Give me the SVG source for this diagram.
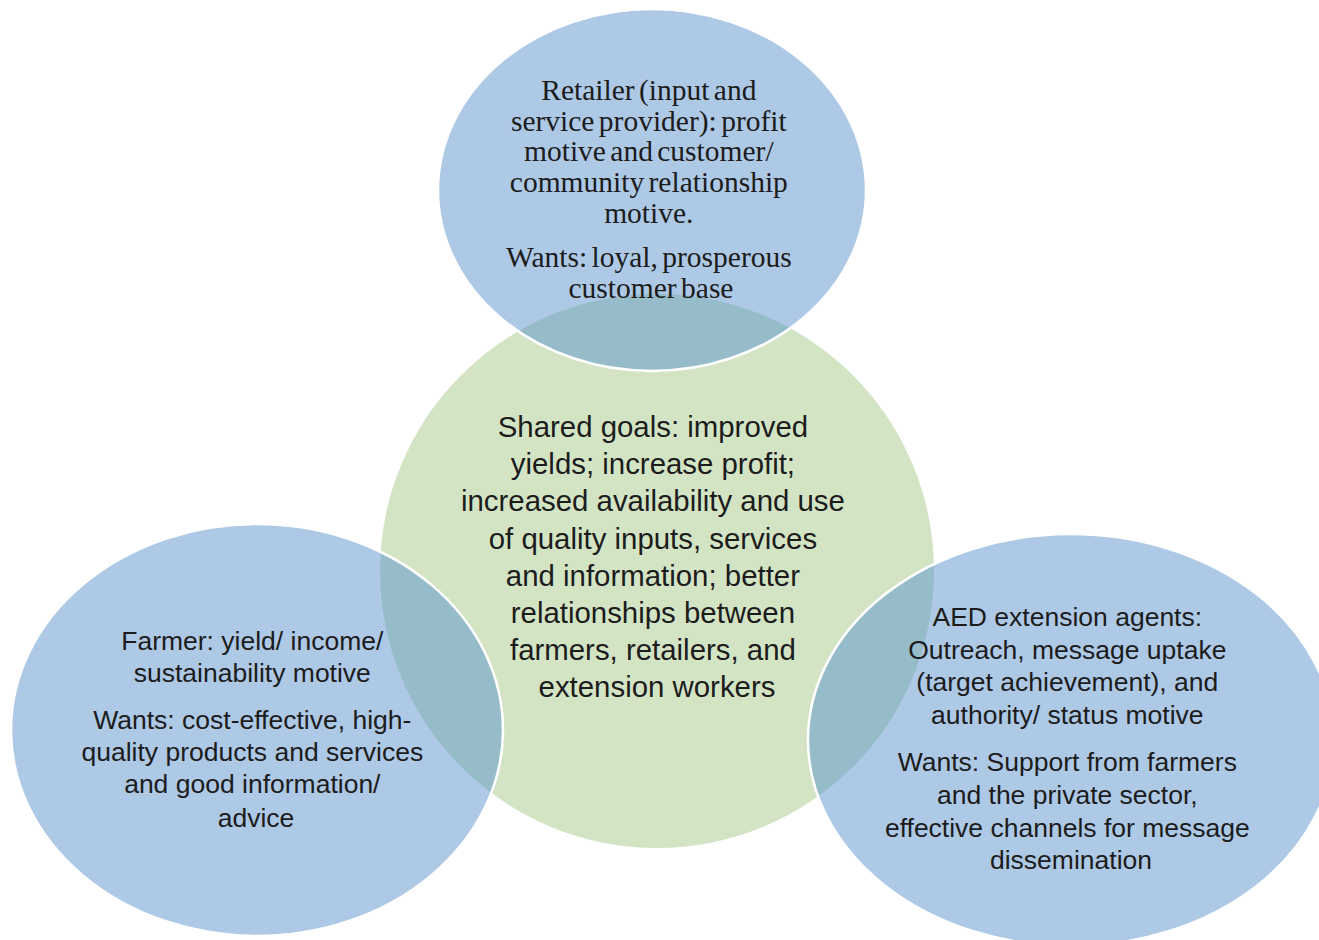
<svg xmlns="http://www.w3.org/2000/svg" width="1319" height="940" viewBox="0 0 1319 940">
  <style>
    .hub { fill: #d3e4c5; }
    .party { fill: #5b93cd; fill-opacity: 0.5; stroke: #ffffff; stroke-width: 2.5; }
    text { fill: #1c1c1c; text-anchor: middle; }
    .serif { font-family: "Liberation Serif", "Times New Roman", serif; font-size: 29.5px; word-spacing: -3px; }
    .sans { font-family: "Liberation Sans", Arial, sans-serif; font-size: 26.5px; }
    .hubtext { font-family: "Liberation Sans", Arial, sans-serif; font-size: 29.4px; }
  </style>

  <rect width="1319" height="940" fill="#ffffff"/>

  <!-- shared goals circle, drawn first so the partner ellipses tint over it -->
  <g id="shared-goals">
    <circle class="hub" cx="657" cy="571" r="277"/>
  </g>

  <g id="retailer">
    <ellipse class="party" cx="652" cy="190" rx="214" ry="181"/>
    <text class="serif">
      <tspan x="651" y="100">Retailer (input and</tspan>
      <tspan x="651" y="130.7">service provider): profit</tspan>
      <tspan x="651" y="161.4">motive and  customer/</tspan>
      <tspan x="651" y="192.1">community relationship</tspan>
      <tspan x="651" y="222.8">motive.</tspan>
      <tspan x="651" y="267">Wants: loyal, prosperous</tspan>
      <tspan x="651" y="297.7">customer base</tspan>
    </text>
  </g>

  <g id="farmer">
    <ellipse class="party" cx="257" cy="730" rx="246" ry="206"/>
    <text class="sans">
      <tspan x="256" y="650">Farmer: yield/ income/</tspan>
      <tspan x="256" y="682">sustainability motive</tspan>
      <tspan x="256" y="729">Wants: cost-effective, high-</tspan>
      <tspan x="256" y="761">quality products and services</tspan>
      <tspan x="256" y="793">and good information/</tspan>
      <tspan x="256" y="827">advice</tspan>
    </text>
  </g>

  <g id="extension-agents">
    <ellipse class="party" cx="1071" cy="740" rx="263" ry="206"/>
    <text class="sans">
      <tspan x="1071" y="626">AED extension agents:</tspan>
      <tspan x="1071" y="659">Outreach, message uptake</tspan>
      <tspan x="1071" y="691">(target achievement), and</tspan>
      <tspan x="1071" y="724">authority/ status motive</tspan>
      <tspan x="1071" y="771">Wants: Support from farmers</tspan>
      <tspan x="1071" y="804">and the private sector,</tspan>
      <tspan x="1071" y="837">effective channels for message</tspan>
      <tspan x="1071" y="869">dissemination</tspan>
    </text>
  </g>

  <g id="shared-goals-label">
    <text class="hubtext">
      <tspan x="657" y="437">Shared goals: improved</tspan>
      <tspan x="657" y="474.2">yields; increase profit;</tspan>
      <tspan x="657" y="511.4">increased availability and use</tspan>
      <tspan x="657" y="548.6">of quality inputs, services</tspan>
      <tspan x="657" y="585.8">and information; better</tspan>
      <tspan x="657" y="623">relationships between</tspan>
      <tspan x="657" y="660.2">farmers, retailers, and</tspan>
      <tspan x="657" y="697.4">extension workers</tspan>
    </text>
  </g>

  <g id="connectors"/>
</svg>
